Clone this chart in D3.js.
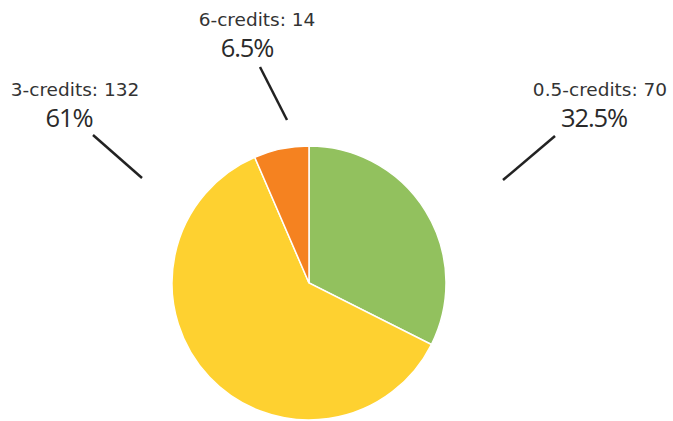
<!DOCTYPE html>
<html><head><meta charset="utf-8">
<script src="https://cdn.jsdelivr.net/npm/d3@7"></script>
<style>body{margin:0;background:#fff}svg{display:block}</style>
</head><body><svg id="c" width="673" height="421"></svg>
<script>
const categories = ["0.5-credits", "3-credits", "6-credits"];
const counts = [70, 132, 14];
const percentLabels = ["32.5%", "61%", "6.5%"];
const colors = ["#92c15e", "#fed130", "#f58220"];

const W = 673, H = 421, cx = 309, cy = 283, R = 137;
const svg = d3.select("#c");
const g = svg.append("g").attr("transform", `translate(${cx},${cy})`);
const data = categories.map((c, i) => ({cat: c, v: counts[i], pct: percentLabels[i], col: colors[i]}));
const pie = d3.pie().value(d => d.v).sort(null);
const arc = d3.arc().innerRadius(0).outerRadius(R);
const arcs = pie(data);
g.selectAll("path").data(arcs).join("path")
  .attr("d", arc).attr("fill", d => d.data.col)
  .attr("stroke", "#fff").attr("stroke-width", 1.5);

// label layout (offsets relative to pie centre)
const layout = [
  {l1: [194, -103], l2: [246, -147], t1: [291, -187], t2: [285, -156]},
  {l1: [-167, -105], l2: [-216, -148], t1: [-234, -187], t2: [-240, -156]},
  {l1: [-22, -163], l2: [-49, -216], t1: [-52, -257], t2: [-62, -226]}
];
arcs.forEach((a, i) => {
  const L = layout[i];
  g.append("line").attr("x1", L.l1[0]).attr("y1", L.l1[1]).attr("x2", L.l2[0]).attr("y2", L.l2[1])
    .attr("stroke", "#222").attr("stroke-width", 2.5);
  g.append("text").attr("x", L.t1[0]).attr("y", L.t1[1]).attr("text-anchor", "middle")
    .attr("font-family", "DejaVu Sans, sans-serif").attr("font-size", 18.5).attr("fill", "#333")
    .text(`${a.data.cat}: ${a.data.v}`);
  g.append("text").attr("x", L.t2[0]).attr("y", L.t2[1]).attr("text-anchor", "middle")
    .attr("font-family", "Open Sans, sans-serif").attr("font-size", 25.5)
    .attr("letter-spacing", -1.1).attr("fill", "#2a2a2a")
    .text(a.data.pct);
});
</script></body></html>
